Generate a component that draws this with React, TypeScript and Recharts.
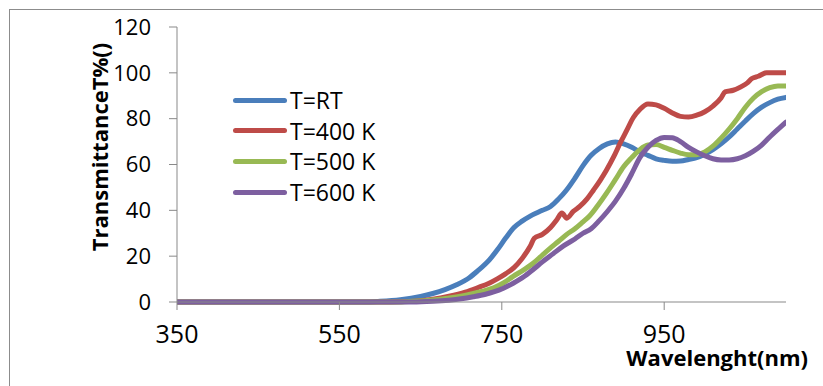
import { LineChart, Line, XAxis, YAxis, Legend, Label } from "recharts";

// Transmittance spectra (wavelength nm, T %) for each annealing temperature
const T_RT: [number, number][] = [
  [350, 0], [500, 0], [580, 0], [600, 0.3], [625, 1], [650, 2.4], [665, 3.7], [680, 5.4],
  [695, 7.6], [710, 10.6], [720, 13.5], [735, 18.5], [745, 23], [755, 28], [765, 32.5],
  [775, 35.3], [785, 37.5], [800, 40], [810, 41.7], [820, 45], [830, 49], [840, 54],
  [850, 59.5], [860, 64], [870, 67], [880, 69], [890, 69.8], [900, 69], [910, 67.5],
  [920, 65.5], [930, 64], [940, 62.5], [950, 61.8], [960, 61.4], [970, 61.5], [980, 62.2],
  [990, 63], [1000, 64.5], [1010, 66.5], [1020, 69], [1030, 72], [1040, 75.5], [1050, 79],
  [1060, 82.3], [1070, 85], [1080, 87], [1090, 88.5], [1100, 89.3],
];

const T_400: [number, number][] = [
  [350, 0], [500, 0], [610, 0], [630, 0.2], [650, 0.6], [665, 1.2], [685, 2.5], [705, 4.3],
  [720, 6.2], [735, 8.3], [745, 10.2], [755, 12.4], [765, 15], [775, 19], [785, 24.3],
  [790, 27.8], [800, 29.5], [810, 32.5], [818, 36], [824, 38.8], [830, 36.6], [838, 39.5],
  [846, 41.7], [855, 45], [863, 48.9], [871, 53], [879, 57.6], [888, 63.5], [896, 69.5],
  [904, 75], [912, 80.5], [920, 84], [930, 86.4], [940, 86], [950, 84.5], [960, 82.5],
  [970, 81], [980, 80.7], [990, 81.5], [1000, 83], [1010, 85.5], [1020, 89], [1025, 91.7],
  [1035, 92.4], [1045, 94], [1052, 95.5], [1058, 97.5], [1066, 98.5], [1076, 100], [1100, 100],
];

const T_500: [number, number][] = [
  [350, 0], [500, 0], [620, 0], [640, 0.3], [665, 0.9], [685, 1.8], [707, 3.1], [725, 4.6],
  [740, 6.2], [752, 8.3], [764, 11.2], [777, 14], [789, 17], [800, 20.5], [809, 23.3],
  [820, 26.5], [830, 29.5], [840, 32], [850, 35], [858, 37.5], [868, 42], [879, 47.5],
  [890, 53.5], [900, 59], [910, 63], [920, 66.5], [930, 68.5], [940, 68.7], [950, 67.5],
  [960, 66.2], [970, 65], [980, 64.3], [990, 64.3], [1000, 65.5], [1010, 68], [1020, 71.5],
  [1030, 75.5], [1040, 80], [1050, 85], [1060, 89], [1070, 91.8], [1080, 93.5], [1090, 94.3],
  [1100, 94.2],
];

const T_600: [number, number][] = [
  [350, 0], [500, 0], [640, 0], [665, 0.3], [685, 0.8], [700, 1.4], [715, 2.3], [730, 3.4],
  [740, 4.4], [752, 6], [764, 8.2], [777, 11], [789, 14.3], [800, 17.5], [813, 21],
  [826, 24.5], [840, 27.5], [850, 30], [860, 32], [870, 35.5], [880, 39.5], [890, 44],
  [900, 49.5], [910, 56], [920, 63], [930, 67.5], [940, 70.5], [950, 71.8], [960, 71.7],
  [970, 70], [980, 67.5], [990, 65.5], [1000, 63.8], [1010, 62.5], [1020, 62], [1030, 62],
  [1040, 62.5], [1050, 63.8], [1060, 65.8], [1070, 68.5], [1080, 72], [1090, 75.3], [1100, 78.5],
];

const X_TICKS = [350, 550, 750, 950];
const Y_TICKS = [0, 20, 40, 60, 80, 100, 120];

const SERIES = [
  { name: "T=RT", rows: T_RT, color: "#4a7ebb" },
  { name: "T=400 K", rows: T_400, color: "#be4b48" },
  { name: "T=500 K", rows: T_500, color: "#98b954" },
  { name: "T=600 K", rows: T_600, color: "#7d5fa0" },
];

const FONT = "'Open Sans', sans-serif";
const AXIS = "#898989";

const toPoints = (rows: [number, number][]) => rows.map(([nm, t]) => ({ nm, t }));

// legend keeps the series order instead of the alphabetical payload sort
function LegendBox() {
  return (
    <div style={{ fontFamily: FONT, fontSize: 23, color: "#000" }}>
      {SERIES.map((s) => (
        <div key={s.name} style={{ display: "flex", alignItems: "center", height: 30.6 }}>
          <span style={{ width: 54, height: 5, borderRadius: 3, background: s.color }} />
          <span style={{ marginLeft: 3, lineHeight: "30px" }}>{s.name}</span>
        </div>
      ))}
    </div>
  );
}

export default function App() {
  return (
    <div style={{ position: "absolute", left: 0, top: 0, width: 823, height: 386, overflow: "hidden", background: "#fff" }}>
      <div style={{ position: "absolute", left: 9, top: 9, width: 900, height: 500, border: "1px solid #8c8c8c" }} />
      <div style={{ position: "absolute", left: 0, top: 0 }}>
        <LineChart width={823} height={386} margin={{ top: 27, right: 37, bottom: 44, left: 117 }}>
          <XAxis
            dataKey="nm"
            type="number"
            domain={[350, 1100]}
            ticks={X_TICKS}
            allowDataOverflow
            height={40}
            tickSize={8}
            tickMargin={15}
            stroke={AXIS}
            tick={{ fontSize: 25, fill: "#000", fontFamily: FONT }}
          >
            <Label
              content={() => (
                <text x={808} y={366} textAnchor="end" fontFamily={FONT} fontWeight="bold" fontSize={22} fill="#000">
                  Wavelenght(nm)
                </text>
              )}
            />
          </XAxis>
          <YAxis
            domain={[0, 120]}
            ticks={Y_TICKS}
            width={60}
            tickSize={8}
            tickMargin={18}
            stroke={AXIS}
            tick={{ fontSize: 22, fill: "#000", fontFamily: FONT }}
          >
            <Label
              content={() => (
                <text
                  x={0}
                  y={0}
                  transform="translate(99,147) rotate(-90)"
                  textAnchor="middle"
                  dominantBaseline="central"
                  fontFamily={FONT}
                  fontWeight="bold"
                  fontSize={22}
                  fill="#000"
                >
                  TransmittanceT%()
                </text>
              )}
            />
          </YAxis>
          <Legend
            layout="vertical"
            align="center"
            verticalAlign="middle"
            wrapperStyle={{ left: 233, top: 85, width: "auto", height: "auto" }}
            content={<LegendBox />}
          />
          {SERIES.map((s) => (
            <Line
              key={s.name}
              name={s.name}
              data={toPoints(s.rows)}
              dataKey="t"
              type="monotone"
              stroke={s.color}
              strokeWidth={5}
              strokeLinecap="round"
              strokeLinejoin="round"
              dot={false}
              isAnimationActive={false}
            />
          ))}
        </LineChart>
      </div>
    </div>
  );
}
